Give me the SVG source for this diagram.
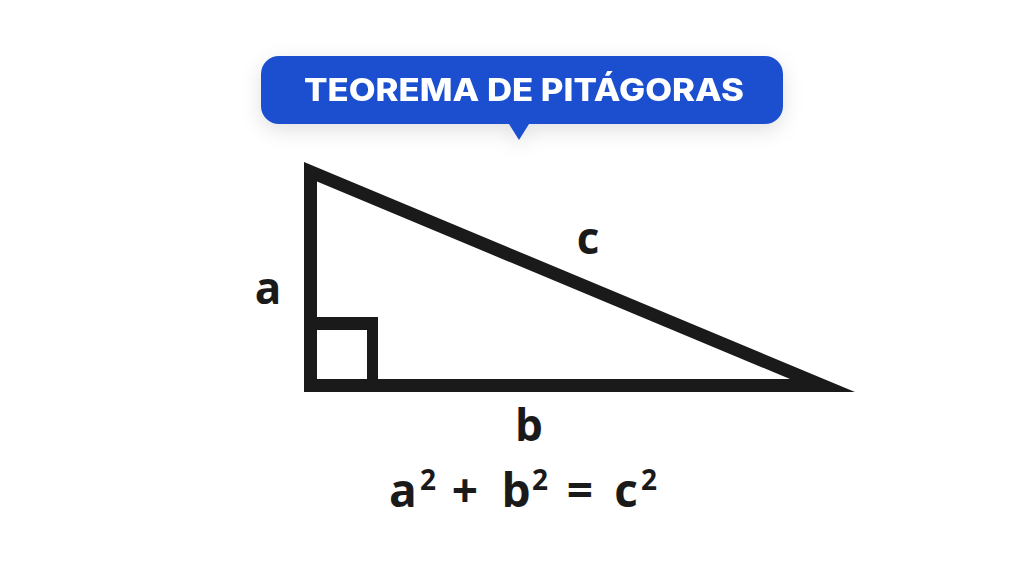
<svg xmlns="http://www.w3.org/2000/svg" width="1024" height="576" viewBox="0 0 1024 576">
<style>
.lbl{font-family:"Open Sans","Liberation Sans",sans-serif;font-weight:700;fill:#1a1a1a;text-anchor:middle}
.sup{font-family:"Open Sans","Liberation Sans",sans-serif;font-weight:700;fill:#1a1a1a;text-anchor:middle;font-size:28px}
.title{font-family:Inter,"Liberation Sans",sans-serif;font-weight:800;fill:#ffffff;text-anchor:middle}
</style>
<defs>
<filter id="sh" x="-20%" y="-50%" width="140%" height="200%">
<feDropShadow dx="0" dy="6" stdDeviation="10" flood-color="#000" flood-opacity="0.12"/>
</filter>
</defs>
<rect width="1024" height="576" fill="#ffffff"/>
<g id="callout" filter="url(#sh)">
<path d="M279 56 H765 A18 18 0 0 1 783 74 V106 A18 18 0 0 1 765 124 H529 L519 140 L509 124 H279 A18 18 0 0 1 261 106 V74 A18 18 0 0 1 279 56 Z" fill="#1a50cf"/>
<text class="title" x="524" y="101" font-size="31" textLength="440" lengthAdjust="spacingAndGlyphs">TEOREMA DE PITÁGORAS</text>
</g>
<g id="triangle">
<path d="M304 162 L855 392 L304 392 Z M317 181.6 L317 379 L790 379 Z" fill="#1a1a1a" fill-rule="evenodd"/>
<path d="M317 317 H378 V379 H367 V330 H317 Z" fill="#1a1a1a"/>
</g>
<g id="labels">
<text class="lbl" x="268" y="304" font-size="44">a</text>
<text class="lbl" x="588" y="254" font-size="44">c</text>
<text class="lbl" x="529" y="441" font-size="44">b</text>
<g id="formula">
<text class="lbl" x="403" y="507" font-size="46">a</text>
<text class="sup" x="428" y="490">2</text>
<text class="lbl" x="465" y="507" font-size="46">+</text>
<text class="lbl" x="516" y="507" font-size="46">b</text>
<text class="sup" x="540" y="490">2</text>
<text class="lbl" x="580" y="507" font-size="46">=</text>
<text class="lbl" x="626" y="507" font-size="46">c</text>
<text class="sup" x="649" y="490">2</text>
</g>
</g>
</svg>
